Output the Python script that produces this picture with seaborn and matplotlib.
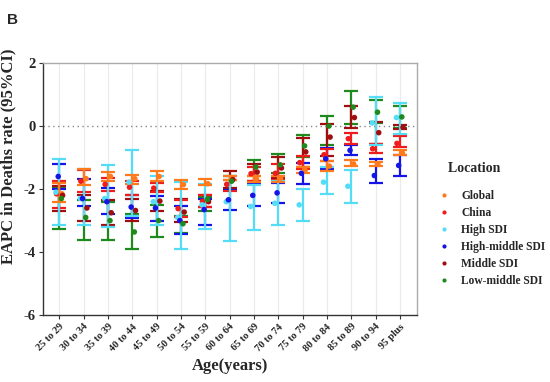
import numpy as np
import pandas as pd
import matplotlib
matplotlib.use('Agg')
import matplotlib.pyplot as plt
import seaborn as sns

sns.set_theme(style='white')
plt.rcParams['font.family'] = ['Liberation Serif', 'DejaVu Serif']
plt.rcParams['font.weight'] = 'bold'

# Dados (EAPC e IC 95%)
ages = ['25 to 29', '30 to 34', '35 to 39', '40 to 44', '45 to 49', '50 to 54', '55 to 59',
        '60 to 64', '65 to 69', '70 to 74', '75 to 79', '80 to 84', '85 to 89', '90 to 94', '95 plus']
locations = ['Global', 'China', 'High SDI', 'High-middle SDI', 'Middle SDI', 'Low-middle SDI']

global_eapc = [-2.15, -1.67, -1.6, -1.67, -1.6, -1.86, -1.83, -1.65, -1.67, -1.65, -1.4, -1.27, -1.2, -1.22, -0.85]
global_low = [-2.4, -1.88, -1.75, -1.83, -1.75, -1.99, -1.88, -1.72, -1.78, -1.76, -1.5, -1.44, -1.27, -1.28, -0.93]
global_high = [-1.8, -1.35, -1.46, -1.54, -1.44, -1.72, -1.69, -1.59, -1.57, -1.57, -1.3, -1.12, -1.09, -1.14, -0.75]

china_eapc = [-2.15, -1.75, -1.85, -1.94, -1.97, -2.62, -2.39, -1.85, -1.51, -1.5, -1.16, -0.91, -0.4, -0.72, -0.55]
china_low = [-2.6, -2.1, -2.05, -2.2, -2.1, -2.9, -2.57, -2.05, -1.75, -1.7, -1.35, -1.1, -0.56, -0.84, -0.68]
china_high = [-1.75, -1.4, -1.65, -1.75, -1.8, -2.35, -2.18, -1.7, -1.3, -1.2, -0.95, -0.72, -0.22, -0.56, -0.33]

high_eapc = [-2.1, -2.3, -2.3, -1.78, -2.4, -2.9, -2.5, -2.4, -2.55, -2.45, -2.5, -1.78, -1.91, 0.1, 0.27]
high_low = [-3.15, -3.13, -3.2, -2.85, -3.13, -3.91, -3.26, -3.65, -3.31, -3.13, -3.01, -2.17, -2.43, -0.6, -0.24]
high_high = [-1.05, -1.35, -1.25, -0.75, -1.59, -1.78, -1.83, -1.6, -1.88, -1.75, -2.0, -1.3, -1.41, 0.92, 0.74]

hmid_eapc = [-1.6, -2.3, -2.4, -2.57, -2.6, -3.0, -2.65, -2.34, -2.2, -2.12, -1.5, -1.04, -0.77, -1.57, -1.25]
hmid_low = [-2.0, -2.55, -2.78, -2.93, -3.0, -3.44, -3.15, -2.65, -2.54, -2.44, -1.84, -1.35, -0.93, -1.81, -1.59]
hmid_high = [-1.2, -1.67, -1.98, -2.2, -2.23, -2.55, -2.3, -2.04, -1.83, -1.8, -1.17, -0.7, -0.59, -1.05, -0.91]

mid_eapc = [-2.2, -2.6, -2.75, -2.68, -2.38, -2.73, -2.4, -1.7, -1.46, -1.33, -0.82, -0.35, 0.27, -0.21, -0.04]
mid_low = [-2.7, -3.0, -3.15, -3.0, -2.7, -3.05, -2.57, -1.95, -1.75, -1.65, -1.3, -0.95, -0.06, -0.56, -0.1]
mid_high = [-1.9, -2.2, -2.36, -2.33, -2.05, -2.3, -2.2, -1.44, -1.19, -0.98, -0.38, 0.08, 0.63, 0.13, 0.02]

lmid_eapc = [-2.3, -2.9, -3.0, -3.36, -3.0, -3.1, -2.33, -1.75, -1.3, -1.23, -0.63, 0.0, 0.6, 0.44, 0.29]
lmid_low = [-3.28, -3.6, -3.6, -3.91, -3.52, -3.4, -2.71, -2.0, -1.6, -1.5, -0.98, -0.6, 0.05, 0.1, -0.05]
lmid_high = [-1.95, -2.36, -2.4, -2.8, -2.52, -2.85, -2.25, -1.6, -1.09, -0.88, -0.27, 0.32, 1.11, 0.82, 0.64]

cores = {
    'Global': '#FF7A1C',
    'China': '#EE1C1C',
    'High SDI': '#55DDF8',
    'High-middle SDI': '#1414E6',
    'Middle SDI': '#A00F0F',
    'Low-middle SDI': '#1E8A1E',
}
# pequeno deslocamento horizontal dos pontos (efeito jitter)
deslocamento = {'Global': 0.1, 'China': -0.12, 'High SDI': -0.14,
                'High-middle SDI': -0.05, 'Middle SDI': 0.13, 'Low-middle SDI': 0.08}

series = {
    'Global': (global_eapc, global_low, global_high),
    'China': (china_eapc, china_low, china_high),
    'High SDI': (high_eapc, high_low, high_high),
    'High-middle SDI': (hmid_eapc, hmid_low, hmid_high),
    'Middle SDI': (mid_eapc, mid_low, mid_high),
    'Low-middle SDI': (lmid_eapc, lmid_low, lmid_high),
}

linhas = []
for loc in locations:
    eapc, low, high = series[loc]
    for i, age in enumerate(ages):
        linhas.append({'age': age, 'pos': i, 'Location': loc,
                       'eapc': eapc[i], 'low': low[i], 'high': high[i]})
df = pd.DataFrame(linhas)
df['x'] = df['pos'] + df['Location'].map(deslocamento)

fig = plt.figure(figsize=(5.5, 3.82), dpi=100)
ax = fig.add_axes([0.078, 0.175, 0.68, 0.66])

# grade vertical
for i in range(len(ages)):
    ax.axvline(i, color='#EBEBEB', lw=0.8, zorder=0)
ax.axhline(0, color='#888888', lw=1.0, ls=(0, (1, 2.5)), zorder=1)

ordem_desenho = ['Low-middle SDI', 'Middle SDI', 'High-middle SDI', 'China', 'High SDI', 'Global']
for z, loc in enumerate(ordem_desenho):
    d = df[df['Location'] == loc]
    ax.errorbar(d['pos'], d['eapc'],
                yerr=[d['eapc'] - d['low'], d['high'] - d['eapc']],
                fmt='none', ecolor=cores[loc], elinewidth=1.6, capsize=5,
                capthick=1.6, zorder=2 + z)

sns.scatterplot(data=df, x='x', y='eapc', hue='Location', hue_order=locations,
                palette=cores, s=16, edgecolor='none', ax=ax, zorder=10)

ax.set_xlim(-0.68, 14.7)
ax.set_ylim(-6, 2)
ax.set_yticks([-6, -4, -2, 0, 2])
ax.set_yticklabels(['-6', '-4', '-2', '0', '2'], fontsize=10.5, fontweight='bold')
ax.set_xticks(range(len(ages)))
ax.set_xticklabels(ages, rotation=45, ha='right', rotation_mode='anchor',
                   fontsize=7.5, fontweight='bold')
ax.tick_params(axis='both', length=3, width=0.8, color='#333333', pad=2, bottom=True, left=True)
ax.set_xlabel('Age(years)', fontsize=12, fontweight='bold', labelpad=4)
ax.set_ylabel('EAPC in Deaths rate (95%CI)', fontsize=12, fontweight='bold')
ax.yaxis.set_label_coords(-0.072, 0.63)

for s in ['left', 'bottom']:
    ax.spines[s].set_color('#333333')
    ax.spines[s].set_linewidth(1.0)
for s in ['top', 'right']:
    ax.spines[s].set_color('#AAAAAA')
    ax.spines[s].set_linewidth(1.0)

sns.move_legend(ax, loc='center left', bbox_to_anchor=(1.028, 0.36), frameon=False,
                title='    Location', markerscale=0.75, handletextpad=0.75, handlelength=1.6,
                labelspacing=0.42, borderaxespad=0.2,
                prop={'weight': 'bold', 'size': 8.3},
                title_fontproperties={'weight': 'bold', 'size': 10})
leg = ax.get_legend()
leg._legend_box.align = 'left'
leg._legend_box.sep = 11

fig.text(0.012, 0.965, 'B', fontsize=11, fontweight='bold', family='Liberation Sans',
         va='top', ha='left')

fig.savefig('out.png', dpi=100)
